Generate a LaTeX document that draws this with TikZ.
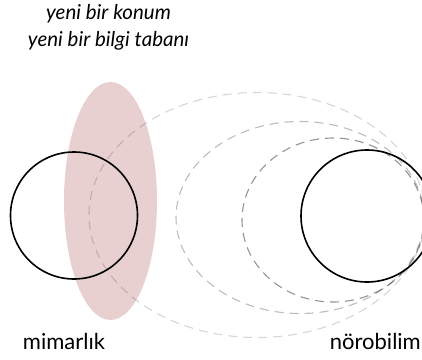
\documentclass[tikz,border=0pt]{standalone}
\usepackage{fontspec}
\setmainfont{Lato}
\usepackage{xcolor}
\usepackage{tikz}
\usetikzlibrary{positioning}

\definecolor{pembe}{RGB}{232,208,209}
\tikzset{
halka/.style={shape=circle,draw=black,line width=1.6pt,inner sep=0pt},
kesik/.style={dash pattern=on 9pt off 6pt,line width=1.1pt,draw=black},
etiket/.style={anchor=base,font=\fontsize{22}{24}\selectfont},
baslik/.style={anchor=base,font=\itshape\fontsize{20.5}{23}\selectfont}
}

\begin{document}
\begin{tikzpicture}[x=1pt,y=-1pt]
\useasboundingbox (0,0) rectangle (422,359);
\clip (0,0) rectangle (422,359);
% yeni alan
\fill[pembe](110.5,201) ellipse [x radius=46.5pt,y radius=119pt];
% kesikli halkalar
\draw[kesik,draw opacity=0.16](257,215) ellipse [x radius=168pt,y radius=122.5pt];
\draw[kesik,draw opacity=0.26](300,217.5) ellipse [x radius=124pt,y radius=96pt];
\draw[kesik,draw opacity=0.42](333,220) ellipse [x radius=91pt,y radius=82pt];
% iki disiplin
\node[halka,minimum size=127pt] (mimar) at (74,215.5) {};
\node[halka,minimum size=132pt] (noro) at (367,216) {};
\node[etiket] (mimarlik) at (64,349) {mimarlık};
\node[etiket,anchor=base east,inner xsep=0pt] (norobilim) at (421,349) {nörobilim};
\node[baslik] (konum) at (108.5,19) {yeni bir konum};
\node[baslik,below=27pt of konum.base,anchor=base] (taban) {yeni bir bilgi tabanı};
\end{tikzpicture}
\end{document}
